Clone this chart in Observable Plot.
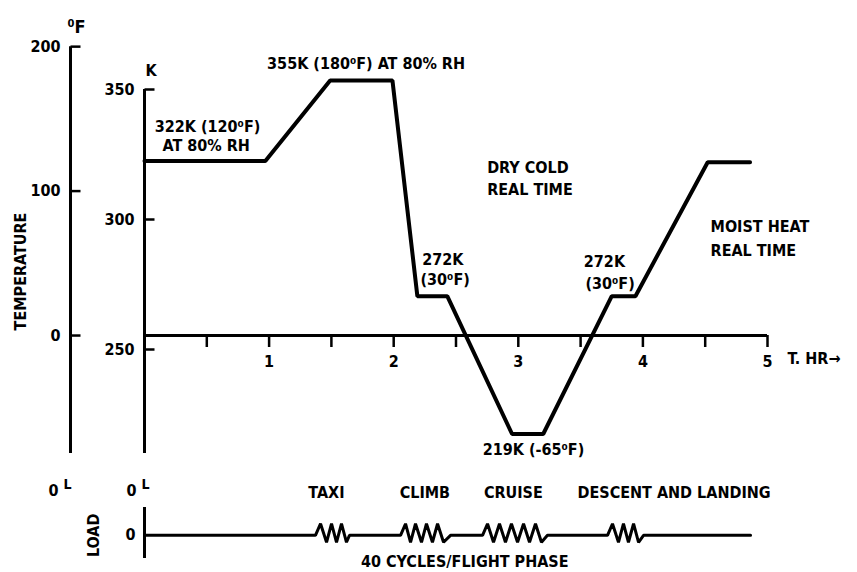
<!DOCTYPE html>
<html><head><meta charset="utf-8">
<script src="https://cdn.jsdelivr.net/npm/d3@7"></script>
<script src="https://cdn.jsdelivr.net/npm/@observablehq/plot@0.6"></script>
<style>
html,body{margin:0;padding:0;background:#fff;}
#chart svg{display:block;}
</style>
</head><body><div id="chart"></div>
<script>
// ---- Temperature profile: time (hours) and temperature (kelvin) ----
const profileHours  = [0, 0.97, 1.49, 1.99, 2.19, 2.43, 2.95, 3.2, 3.75, 3.94, 4.52, 4.86];
const profileKelvin = [322.5, 322.5, 353.5, 353.5, 270.5, 270.5, 217.5, 217.5, 270.5, 270.5, 322, 322];

// ---- Axis ticks ----
const kelvinTicks = [250, 300, 350];
const fahrenheitTicks = [0, 100, 200];
const hourTicks = [0.5, 1, 1.5, 2, 2.5, 3, 3.5, 4, 4.5, 5];

// ---- Temperature annotations ----
const noteText   = ["322K (120\u2070F)", "AT 80% RH", "355K (180\u2070F) AT 80% RH", "219K (-65\u2070F)",
                    "DRY COLD", "REAL TIME", "272K", "(30\u2070F)", "272K", "(30\u2070F)",
                    "MOIST HEAT", "REAL TIME", "T. HR\u2192"];
const noteHours  = [0.506, 0.495, 1.778, 3.122,
                    2.75, 2.75, 2.229, 2.215, 3.526, 3.539,
                    4.543, 4.543, 5.16];
const noteKelvin = [335.8, 328.5, 360, 211.5,
                    319.8, 311.3, 284.6, 276.9, 283.8, 275.4,
                    297, 288, 246.5];
const noteAnchor = ["middle", "middle", "middle", "middle",
                    "start", "start", "start", "start", "start", "start",
                    "start", "start", "start"];

// ---- Load trace: time (hours) and relative load ----
const loadHours = [0,
  1.372, 1.413, 1.461, 1.501, 1.541, 1.581, 1.621, 1.645,
  2.055, 2.095, 2.135, 2.175, 2.223, 2.263, 2.311, 2.352, 2.400, 2.456,
  2.713, 2.753, 2.801, 2.849, 2.897, 2.945, 2.994, 3.042, 3.090, 3.138, 3.186, 3.234,
  3.716, 3.756, 3.804, 3.844, 3.884, 3.925, 3.965, 4.005,
  4.864];
const loadValue = [0,
  0, 1, -0.6, 1, -0.6, 1, -0.6, 0,
  0, 1, -0.6, 1, -0.6, 1, -0.6, 1, -0.6, 0,
  0, 1, -0.6, 1, -0.6, 1, -0.6, 1, -0.6, 1, -0.6, 0,
  0, 1, -0.6, 1, -0.6, 1, -0.6, 0,
  0];

// ---- Flight phases ----
const phaseNames = ["TAXI", "CLIMB", "CRUISE", "DESCENT AND LANDING"];
const phaseLabelHours = [1.46, 2.25, 2.96, 4.25];

const fToK = f => (f - 32) * 5 / 9 + 273.15;
const kToF = k => (k - 273.15) * 9 / 5 + 32;

const profile = profileHours.map((t, i) => ({t, k: profileKelvin[i]}));
const notes = noteText.map((text, i) => ({text, t: noteHours[i], k: noteKelvin[i], anchor: noteAnchor[i]}));
const load = loadHours.map((t, i) => ({t, v: loadValue[i]}));
const phases = phaseNames.map((name, i) => ({name, t: phaseLabelHours[i]}));
const kTickRows = kelvinTicks.map(k => ({k}));
const fTickRows = fahrenheitTicks.map(f => ({k: fToK(f)}));

const W = 857, ML = 144, MR = 90;
const hoursPerPx = 5 / (W - ML - MR);
const tickHours = 10 * hoursPerPx;   // 10-pixel inward tick length expressed in hours

const font = {fontFamily: "'DejaVu Sans Condensed', 'DejaVu Sans', sans-serif", fontSize: "16px",
  fontWeight: "bold", color: "black", background: "white", overflow: "visible"};

const topPlot = Plot.plot({
  width: W, height: 465,
  marginLeft: ML, marginRight: MR, marginTop: 37, marginBottom: 12,
  x: {domain: [0, 5]},
  y: {domain: [210, 370]},
  style: font,
  marks: [
    Plot.ruleX([0], {y1: 350, y2: 210, strokeWidth: 3}),
    Plot.ruleX([0], {y1: fToK(200), y2: 210, dx: -74, strokeWidth: 3}),
    Plot.ruleY([fToK(0)], {x1: 0, x2: 5, strokeWidth: 3}),
    // inward tick marks on the two vertical axes
    Plot.link(kTickRows, {x1: () => 0, x2: () => tickHours, y1: "k", y2: "k", stroke: "black", strokeWidth: 2.5}),
    Plot.link(fTickRows, {x1: () => 0, x2: () => tickHours, y1: "k", y2: "k", dx: -74, stroke: "black", strokeWidth: 2.5}),
    Plot.axisY({ticks: kelvinTicks, tickSize: 0, tickPadding: 10, label: null}),
    Plot.axisY({ticks: fahrenheitTicks.map(fToK), tickFormat: k => Math.round(kToF(k)),
      tickSize: 0, dx: -74, tickPadding: 10, label: null}),
    Plot.axisX({ticks: hourTicks, tickFormat: d => Number.isInteger(d) ? d : "",
      tickSize: 12, tickPadding: 8, dy: -118, strokeWidth: 2.5, label: null}),
    Plot.line(profile, {x: "t", y: "k", strokeWidth: 4, strokeLinejoin: "miter"}),
    Plot.text(notes, {filter: d => d.anchor === "start", x: "t", y: "k", text: "text", textAnchor: "start"}),
    Plot.text(notes, {filter: d => d.anchor === "middle", x: "t", y: "k", text: "text", textAnchor: "middle"}),
    Plot.text(["K"], {x: 0, y: 357, textAnchor: "start", dx: 1}),
    Plot.text(["\u2070F"], {frameAnchor: "left", dx: -77, y: 374, textAnchor: "start", fontSize: 18}),
    Plot.text(["TEMPERATURE"], {frameAnchor: "left", dx: -124, y: 280, rotate: -90, textAnchor: "middle"})
  ]
});

const bottomPlot = Plot.plot({
  width: W, height: 107,
  marginLeft: ML, marginRight: MR, marginTop: 42, marginBottom: 14,
  x: {domain: [0, 5], axis: null},
  y: {domain: [-2, 2.4]},
  style: font,
  marks: [
    Plot.ruleX([0], {y1: -2, y2: 2.4, strokeWidth: 3}),
    Plot.axisY({ticks: [0], tickFormat: d => String(d), tickSize: 0, tickPadding: 9, label: null}),
    Plot.line(load, {x: "t", y: "v", strokeWidth: 3, strokeLinejoin: "miter"}),
    Plot.text(phases, {x: "t", y: 3.65, text: "name"}),
    Plot.text(["40 CYCLES/FLIGHT PHASE"], {x: 2.57, y: -2.26}),
    Plot.text(["LOAD"], {frameAnchor: "left", dx: -51, y: 0, rotate: -90, textAnchor: "middle"}),
    Plot.text(["0"], {frameAnchor: "top-left", dx: -91, dy: -23, textAnchor: "middle"}),
    Plot.text(["0"], {frameAnchor: "top-left", dx: -13, dy: -23, textAnchor: "middle"}),
    Plot.text(["L"], {frameAnchor: "top-left", dx: -81, dy: -28, textAnchor: "start", fontSize: 14}),
    Plot.text(["L"], {frameAnchor: "top-left", dx: -3, dy: -28, textAnchor: "start", fontSize: 14})
  ]
});

document.getElementById("chart").append(topPlot, bottomPlot);
</script>
</body></html>
